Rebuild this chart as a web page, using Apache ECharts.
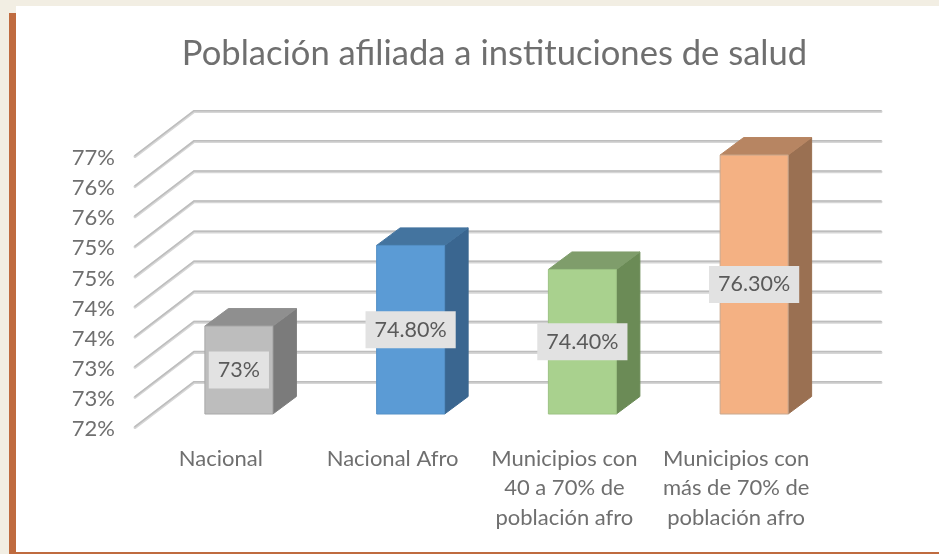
<!DOCTYPE html>
<html><head><meta charset="utf-8">
<style>
html,body{margin:0;padding:0;background:#f2eee3;width:939px;height:554px;overflow:hidden}
#card{position:absolute;left:16px;top:6px;width:923px;height:546px;background:#fff}
#bar{position:absolute;left:9px;top:13px;width:7px;height:541px;background:#bf6b3f}
#foot{position:absolute;left:9px;top:552px;width:930px;height:2px;background:#bf6b3f}
#c{position:absolute;left:0;top:0;width:939px;height:554px}
</style>
<script src="https://cdn.jsdelivr.net/npm/echarts@6/dist/echarts.min.js"></script>
</head><body>
<div id="card"></div><div id="bar"></div><div id="foot"></div>
<div id="c"></div>
<script>
const titleText = 'Población afiliada a instituciones de salud';
const categories = ['Nacional','Nacional Afro','Municipios con\n40 a 70% de\npoblación afro','Municipios con\nmás de 70% de\npoblación afro'];
const values = [73.46, 74.8, 74.4, 76.3];
const valueLabels = ['73%','74.80%','74.40%','76.30%'];
const yTicks = [72,72.5,73,73.5,74,74.5,75,75.5,76,76.5];
const frontColors = ['#bdbdbd','#5b9bd5','#a9d18e','#f4b183'];
const topColors = ['#8f8f8f','#44749f','#7f9d6b','#b78562'];
const sideColors = ['#7b7b7b','#3a6690','#6b8b56','#9a7052'];
const edgeColors = ['#a8a8a8','#5590c6','#9cc283','#c9a88e'];

const FONT = 'Lato';
const wallDx = 59, wallDy = -45;      // depth of the floor
const barDx = 23.5, barDy = -17.5;    // depth of a bar
const barFrontDx = 18, barFrontDy = -13; // gap from the front plane to the bar
const barW = 68;

function renderWall(params, api){
  const y = api.coord([0, api.value(1)])[1];
  const r = params.coordSys;
  const pts = [[r.x, y],[r.x + wallDx, y + wallDy],[r.x + r.width + wallDx, y + wallDy]];
  return {type:'group', children:[
    {type:'polyline', shape:{points:pts.map(p=>[p[0],p[1]+0.5])}, style:{fill:null, stroke:'#d6d6d6', lineWidth:3, lineCap:'round'}},
    {type:'polyline', shape:{points:pts.map(p=>[p[0],p[1]-0.3])}, style:{fill:null, stroke:'#bdbdbd', lineWidth:1.5, lineCap:'round'}}
  ]};
}
function renderBar(params, api){
  const i = params.dataIndex;
  const top = api.coord([i, api.value(1)]);
  const base = api.coord([i, 72]);
  const cx = top[0] + barFrontDx;
  const x0 = cx - barW/2, x1 = cx + barW/2;
  const yT = top[1] + barFrontDy, yB = base[1] + barFrontDy;
  const poly = (points, fill, stroke) => ({type:'polygon', shape:{points}, style:{fill, stroke:stroke||fill, lineWidth:1}});
  return {type:'group', children:[
    poly([[x1,yT],[x1+barDx,yT+barDy],[x1+barDx,yB+barDy],[x1,yB]], sideColors[i]),
    poly([[x0,yT],[x0+barDx,yT+barDy],[x1+barDx,yT+barDy],[x1,yT]], topColors[i]),
    poly([[x0,yT],[x1,yT],[x1,yB],[x0,yB]], frontColors[i], edgeColors[i]),
    {type:'text', z2:10, style:{text:valueLabels[i], x:cx, y:(yT+yB)/2, align:'center', verticalAlign:'middle',
      font:'21.5px '+FONT, fill:'#5a5a5a', backgroundColor:'#e2e2e2', padding:[8,9,7,9]}}
  ]};
}
const chart = echarts.init(document.getElementById('c'), null, {renderer:'canvas'});
chart.setOption({
  animation:false,
  backgroundColor:'transparent',
  textStyle:{fontFamily:FONT},
  title:{text:titleText, left:489.5, top:31, textAlign:'center',
    textStyle:{fontFamily:FONT, fontSize:34.6, fontWeight:'normal', color:'#6f6f6f'}},
  grid:{left:135, top:156, width:687, height:271, containLabel:false},
  xAxis:{type:'category', data:categories, axisLine:{show:false}, axisTick:{show:false}, splitLine:{show:false},
    axisLabel:{interval:0, margin:17, fontFamily:FONT, fontSize:22, lineHeight:29.5, color:'#6f6f6f'}},
  yAxis:{type:'value', min:72, max:76.5, interval:0.5, axisLine:{show:false}, axisTick:{show:false}, splitLine:{show:false},
    axisLabel:{margin:20, verticalAlign:'top', lineHeight:4, fontFamily:FONT, fontSize:22, color:'#6f6f6f', formatter:v=>Math.round(v)+'%'}},
  series:[
    {type:'custom', renderItem:renderWall, silent:true, z:1, clip:false, encode:{x:0,y:1}, data:yTicks.map(t=>[0,t])},
    {type:'custom', renderItem:renderBar, z:2, clip:false, encode:{x:0,y:1}, data:values.map((v,i)=>[i,v])}
  ]
});
</script>
</body></html>
